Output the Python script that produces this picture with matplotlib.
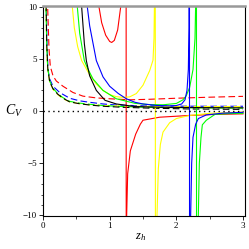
import matplotlib
matplotlib.use("Agg")
import matplotlib.pyplot as plt
from matplotlib.ticker import MultipleLocator

plt.rcParams['mathtext.fontset'] = 'custom'
plt.rcParams['mathtext.it'] = 'Liberation Serif:italic'
plt.rcParams['mathtext.rm'] = 'Liberation Serif'

# ---- dashed family (monotone from small z_h) ----
red_d_z = [0.06, 0.07, 0.09, 0.11, 0.15, 0.2, 0.3, 0.45, 0.6, 0.8, 1.0, 1.3, 1.6, 2.0, 2.5, 3.0]
red_d_c = [14, 10, 6.0, 4.3, 3.4, 2.9, 2.4, 1.8, 1.45, 1.28, 1.2, 1.1, 1.15, 1.25, 1.35, 1.43]
blue_d_z = [0.045, 0.05, 0.06, 0.075, 0.1, 0.15, 0.25, 0.4, 0.55, 0.7, 0.9, 1.1, 1.5, 2.0, 2.5, 3.0]
blue_d_c = [14, 10, 6.5, 4.0, 3.1, 2.4, 1.8, 1.25, 1.0, 0.86, 0.7, 0.6, 0.52, 0.49, 0.48, 0.48]
yel_d_z = [0.04, 0.045, 0.055, 0.07, 0.1, 0.15, 0.22, 0.3, 0.4, 0.55, 0.7, 0.9, 1.2, 1.6, 2.2, 3.0]
yel_d_c = [14, 10, 6.0, 4.0, 2.8, 2.1, 1.6, 1.2, 0.9, 0.72, 0.62, 0.55, 0.5, 0.47, 0.46, 0.45]
grn_d_z = [0.04, 0.045, 0.055, 0.07, 0.1, 0.15, 0.22, 0.3, 0.4, 0.55, 0.7, 0.9, 1.2, 1.6, 2.2, 3.0]
grn_d_c = [14, 10, 6.5, 4.2, 2.9, 2.2, 1.7, 1.3, 0.95, 0.78, 0.67, 0.55, 0.45, 0.38, 0.33, 0.3]
blk_d_z = [0.042, 0.047, 0.057, 0.072, 0.1, 0.15, 0.22, 0.3, 0.4, 0.55, 0.7, 0.9, 1.2, 1.6, 2.2, 3.0]
blk_d_c = [14, 10, 6.3, 4.1, 2.85, 2.15, 1.65, 1.25, 0.9, 0.72, 0.6, 0.48, 0.38, 0.3, 0.22, 0.18]

# ---- solid family (with poles) ----
red_s_z = [0.80, 0.84, 0.88, 0.94, 1.0, 1.03, 1.07, 1.12, 1.165, 1.22, 1.245, 1.25, 1.255,
           1.27, 1.31, 1.39, 1.46, 1.5, 1.75, 2.2, 2.6, 3.0]
red_s_c = [14, 10, 8.5, 7.3, 6.7, 6.6, 6.8, 7.8, 10, 20, 60, -60, -10,
           -6, -3.8, -2.2, -1.24, -0.86, -0.57, -0.4, -0.3, -0.25]
yel_s_z = [0.42, 0.44, 0.47, 0.52, 0.58, 0.7, 0.8, 0.9, 1.0, 1.1, 1.2, 1.3, 1.4, 1.5, 1.6,
           1.65, 1.665, 1.675, 1.68, 1.69, 1.71, 1.73, 1.76, 1.8, 1.9, 2.0, 2.2, 2.5, 3.0]
yel_s_c = [14, 10, 8.0, 6.2, 4.86, 3.5, 2.6, 2.0, 1.6, 1.4, 1.33, 1.38, 1.7, 2.5, 3.9,
           4.9, 7.0, 12, 60, -60, -10, -5.5, -3.2, -2.0, -1.1, -0.7, -0.4, -0.2, -0.07]
grn_s_z = [0.50, 0.515, 0.55, 0.62, 0.67, 0.75, 0.9, 1.1, 1.38, 1.6, 1.8, 2.0, 2.1, 2.15, 2.2,
           2.25, 2.28, 2.295, 2.30, 2.305, 2.33, 2.345, 2.37, 2.39, 2.45, 2.58, 2.8, 3.0]
grn_s_c = [14, 10, 7.5, 4.86, 4.1, 3.1, 2.0, 1.2, 0.76, 0.64, 0.62, 0.75, 1.1, 1.5, 2.3,
           4.0, 7.0, 12, 60, -60, -10, -5, -2.5, -1.3, -0.86, -0.3, -0.22, -0.2]
blk_s_z = [0.56, 0.58, 0.62, 0.65, 0.7, 0.8, 0.93, 1.1, 1.38, 1.8, 2.4, 3.0]
blk_s_c = [14, 10, 6.5, 4.86, 3.4, 2.0, 1.05, 0.7, 0.45, 0.38, 0.35, 0.33]
blu_s_z = [0.64, 0.665, 0.7, 0.8, 0.9, 1.0, 1.13, 1.25, 1.38, 1.5, 1.7, 1.9, 2.0, 2.08, 2.13,
           2.16, 2.18, 2.19, 2.195, 2.2, 2.215, 2.23, 2.25, 2.29, 2.33, 2.45, 2.7, 3.0]
blu_s_c = [14, 10, 8.2, 4.86, 3.3, 2.4, 1.7, 1.2, 0.86, 0.7, 0.56, 0.52, 0.55, 0.7, 1.1,
           2.0, 4.0, 8.0, 60, -60, -10, -5, -2.5, -1.24, -0.7, -0.35, -0.18, -0.1]

zero_z = [0, 3]
zero_c = [0, 0]

x_ticks = [0, 1, 2, 3]
y_ticks = [-10, -5, 0, 5, 10]

fig = plt.figure(figsize=(2.49, 2.49), dpi=100)
ax = fig.add_axes([43/249, 1-216/249, (245-43)/249, (216-6)/249])

lw = 0.8
dash = (0, (6, 3))
ax.plot(red_d_z, red_d_c, color='#ff0000', lw=lw, ls=dash)
ax.plot(blue_d_z, blue_d_c, color='#0000ff', lw=lw, ls=dash)
ax.plot(yel_d_z, yel_d_c, color='#ffff00', lw=lw, ls=(3, (6, 3)))
ax.plot(grn_d_z, grn_d_c, color='#00ff00', lw=lw, ls=dash)
ax.plot(blk_d_z, blk_d_c, color='#000000', lw=lw, ls=(4, (6, 3)))

ax.plot(red_s_z, red_s_c, color='#ff0000', lw=lw)
ax.plot(yel_s_z, yel_s_c, color='#ffff00', lw=lw)
ax.plot(grn_s_z, grn_s_c, color='#00ff00', lw=lw)
ax.plot(blk_s_z, blk_s_c, color='#000000', lw=lw)
ax.plot(blu_s_z, blu_s_c, color='#0000ff', lw=lw)

ax.plot(zero_z, zero_c, color='black', lw=1.0, ls=(0, (1, 2.5)))

ax.set_xlim(0, 3.03)
ax.set_ylim(-10.05, 10.1)
ax.set_xticks(x_ticks)
ax.set_yticks(y_ticks)
ax.xaxis.set_minor_locator(MultipleLocator(0.5))
ax.yaxis.set_minor_locator(MultipleLocator(1))
ax.tick_params(axis='both', which='major', length=3, width=0.6, labelsize=6.5, pad=1.5,
               direction='out')
ax.tick_params(axis='both', which='minor', length=1.8, width=0.5, direction='out')
for lab in ax.get_xticklabels() + ax.get_yticklabels():
    lab.set_family('Liberation Serif')
ax.set_yticklabels(['\u221210', '\u22125', '0', '5', '10'])

ax.spines['top'].set_color('#999999')
ax.spines['top'].set_linewidth(1.8)
ax.spines['right'].set_color('black')
ax.spines['right'].set_linewidth(0.8)
ax.spines['left'].set_linewidth(0.8)
ax.spines['bottom'].set_linewidth(0.8)

fig.text(14/249, 1-111/249, r'$C_V$', fontsize=10, ha='center', va='center')
fig.text(141/249, 1-236/249, r'$z_h$', fontsize=9, ha='center', va='center')

fig.savefig('out.png', dpi=100)
